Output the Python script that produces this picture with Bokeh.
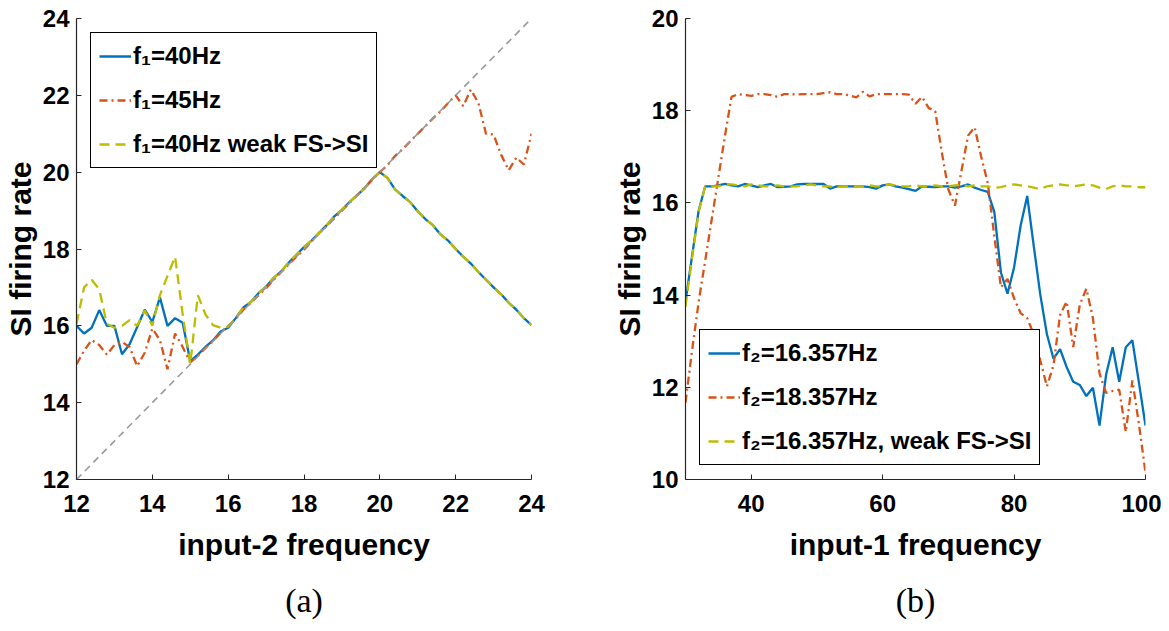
from bokeh.plotting import figure
from bokeh.layouts import row
from bokeh.models import Range1d, Legend, LegendItem, Title, FixedTicker
from bokeh.embed import file_html
from bokeh.resources import INLINE

# ---------------- panel (a) data ----------------
a_x = [12.0, 12.2, 12.4, 12.6, 12.8, 13.0, 13.2, 13.4, 13.6, 13.8,
       14.0, 14.2, 14.4, 14.6, 14.8, 15.0, 15.2, 15.4, 15.6, 15.8,
       16.0, 16.2, 16.4, 16.6, 16.8, 17.0, 17.2, 17.4, 17.6, 17.8,
       18.0, 18.2, 18.4, 18.6, 18.8, 19.0, 19.2, 19.4, 19.6, 19.8,
       20.0, 20.2, 20.4, 20.6, 20.8, 21.0, 21.2, 21.4, 21.6, 21.8,
       22.0, 22.2, 22.4, 22.6, 22.8, 23.0, 23.2, 23.4, 23.6, 23.8, 24.0]
a_f40 = [16.00, 15.80, 15.95, 16.41, 16.00, 16.00, 15.26, 15.52, 15.97, 16.42,
         16.10, 16.74, 16.00, 16.20, 16.08, 15.08, 15.25, 15.45, 15.62, 15.85,
         15.95, 16.20, 16.48, 16.62, 16.85, 17.02, 17.25, 17.42, 17.65, 17.85,
         18.05, 18.22, 18.42, 18.62, 18.85, 19.02, 19.22, 19.40, 19.58, 19.82,
         20.00, 19.85, 19.55, 19.38, 19.22, 18.98, 18.78, 18.62, 18.38, 18.22,
         18.00, 17.80, 17.62, 17.40, 17.20, 17.00, 16.82, 16.60, 16.42, 16.20, 16.02]
a_f45 = [15.00, 15.35, 15.63, 15.50, 15.25, 15.50, 15.58, 15.45, 14.95, 15.30,
         15.93, 15.63, 14.87, 15.80, 15.45, 15.05, 15.22, 15.42, 15.60, 15.82,
         16.00, 16.18, 16.42, 16.60, 16.80, 16.98, 17.20, 17.40, 17.60, 17.80,
         17.98, 18.20, 18.42, 18.60, 18.80, 19.00, 19.20, 19.40, 19.60, 19.80,
         20.00, 20.18, 20.42, 20.60, 20.80, 21.00, 21.20, 21.40, 21.58, 21.80,
         22.00, 21.72, 22.15, 21.80, 21.00, 20.98, 20.45, 20.05, 20.38, 20.20, 21.00]
a_f40_weak = [16.05, 17.00, 17.20, 16.95, 16.05, 15.95, 16.00, 16.15, 16.00, 16.40,
              16.00, 16.80, 17.30, 17.80, 16.30, 15.00, 16.80, 16.30, 16.02, 15.95,
              15.98, 16.20, 16.48, 16.62, 16.85, 17.02, 17.25, 17.42, 17.65, 17.85,
              18.05, 18.22, 18.42, 18.62, 18.85, 19.02, 19.22, 19.40, 19.58, 19.82,
              20.00, 19.85, 19.55, 19.38, 19.22, 18.98, 18.78, 18.62, 18.38, 18.22,
              18.00, 17.80, 17.62, 17.40, 17.20, 17.00, 16.82, 16.60, 16.42, 16.20, 16.02]
a_diag_x = [12, 24]
a_diag_y = [12, 24]
a_xticks = [12, 14, 16, 18, 20, 22, 24]
a_yticks = [12, 14, 16, 18, 20, 22, 24]
a_labels = ["f\u2081=40Hz", "f\u2081=45Hz", "f\u2081=40Hz weak FS->SI"]

# ---------------- panel (b) data ----------------
b_x = [30, 31, 32, 33, 34, 35, 36, 37, 38, 39, 40, 41, 42, 43, 44, 45, 46, 47, 48, 49,
       50, 51, 52, 53, 54, 55, 56, 57, 58, 59, 60, 61, 62, 63, 64, 65, 66, 67, 68, 69,
       70, 71, 72, 73, 74, 75, 76, 77, 78, 79, 80, 81, 82, 83, 84, 85, 86, 87, 88, 89,
       90, 91, 92, 93, 94, 95, 96, 97, 98, 99, 100]
b_f16 = [13.86, 14.85, 15.83, 16.36, 16.36, 16.38, 16.41, 16.38, 16.36, 16.41,
         16.38, 16.34, 16.38, 16.41, 16.34, 16.35, 16.36, 16.40, 16.41, 16.41,
         16.41, 16.41, 16.31, 16.36, 16.36, 16.36, 16.36, 16.36, 16.34, 16.31,
         16.38, 16.40, 16.36, 16.33, 16.30, 16.26, 16.36, 16.35, 16.34, 16.36,
         16.36, 16.33, 16.36, 16.40, 16.33, 16.28, 16.24, 15.80, 14.49, 14.03,
         14.60, 15.51, 16.15, 15.06, 14.00, 13.15, 12.62, 12.83, 12.44, 12.12,
         12.05, 11.81, 11.99, 11.17, 12.27, 12.87, 12.12, 12.87, 13.02, 12.10, 11.17]
b_f18 = [11.67, 12.80, 13.85, 14.75, 15.65, 16.55, 17.45, 18.30, 18.36, 18.34,
         18.32, 18.36, 18.36, 18.34, 18.30, 18.36, 18.36, 18.35, 18.36, 18.36,
         18.36, 18.38, 18.40, 18.36, 18.36, 18.33, 18.29, 18.41, 18.31, 18.36,
         18.36, 18.36, 18.36, 18.36, 18.35, 18.15, 18.30, 18.06, 17.99, 17.10,
         16.29, 15.94, 16.70, 17.46, 17.64, 17.00, 16.43, 15.27, 14.17, 14.35,
         13.93, 13.61, 13.50, 13.15, 12.58, 12.02, 12.48, 13.57, 13.86, 12.87,
         13.79, 14.14, 13.50, 12.30, 11.88, 11.92, 11.95, 11.03, 12.15, 11.20, 10.15]
b_f16_weak = [13.75, 14.80, 15.80, 16.36, 16.36, 16.36, 16.40, 16.40, 16.38, 16.36,
              16.40, 16.38, 16.36, 16.36, 16.38, 16.36, 16.36, 16.36, 16.38, 16.40,
              16.38, 16.36, 16.36, 16.34, 16.36, 16.36, 16.36, 16.36, 16.38, 16.36,
              16.36, 16.40, 16.38, 16.36, 16.36, 16.38, 16.36, 16.36, 16.38, 16.36,
              16.36, 16.38, 16.40, 16.36, 16.38, 16.36, 16.36, 16.33, 16.34, 16.38,
              16.40, 16.38, 16.36, 16.33, 16.30, 16.36, 16.38, 16.40, 16.38, 16.36,
              16.38, 16.40, 16.38, 16.33, 16.30, 16.36, 16.38, 16.36, 16.36, 16.34, 16.34]
b_xticks = [40, 60, 80, 100]
b_yticks = [10, 12, 14, 16, 18, 20]
b_labels = ["f\u2082=16.357Hz", "f\u2082=18.357Hz", "f\u2082=16.357Hz, weak FS->SI"]

BLUE = "#0072BD"
ORANGE = "#D95319"
YELLOW = "#BDBD00"
GRAY = "#9A9A9A"
AXC = "#262626"
FONT = "Liberation Sans"


def make_fig(xr, yr, xticks, yticks, xlabel, ylabel, fw, bl, br):
    p = figure(title=None, frame_width=fw, frame_height=461,
               x_range=Range1d(*xr), y_range=Range1d(*yr),
               output_backend="svg", toolbar_location=None,
               min_border_left=bl, min_border_right=br,
               min_border_top=18, min_border_bottom=132,
               background_fill_color="white", border_fill_color="white")
    p.grid.visible = False
    p.outline_line_color = None
    p.xaxis.ticker = FixedTicker(ticks=xticks)
    p.yaxis.ticker = FixedTicker(ticks=yticks)
    p.xaxis.axis_label = xlabel
    p.yaxis.axis_label = ylabel
    for ax in (p.xaxis[0], p.yaxis[0]):
        ax.axis_line_color = AXC
        ax.axis_line_width = 1.2
        ax.major_tick_line_color = AXC
        ax.major_tick_in = 5
        ax.major_tick_out = 0
        ax.minor_tick_line_color = None
        ax.major_label_text_font = FONT
        ax.major_label_text_font_style = "bold"
        ax.major_label_text_font_size = "24px"
        ax.major_label_text_color = "#000000"
        ax.axis_label_text_font = FONT
        ax.axis_label_text_font_style = "bold"
        ax.axis_label_text_font_size = "30px"
        ax.axis_label_text_color = "#000000"
    p.xaxis.major_label_standoff = 15
    p.yaxis.major_label_standoff = 7
    p.xaxis.axis_label_standoff = 13
    p.yaxis.axis_label_standoff = 3
    return p


def add_legend(p, items, loc):
    lg = Legend(items=items, location=loc, margin=14,
                border_line_color="#000000", border_line_width=1.2,
                border_line_alpha=1.0,
                background_fill_color="white", background_fill_alpha=1.0,
                label_text_font=FONT, label_text_font_style="bold",
                label_text_font_size="24px", label_text_color="#000000",
                glyph_width=32, glyph_height=30, label_height=30,
                spacing=14, padding=8, label_standoff=2)
    p.add_layout(lg)


def add_caption(p, text):
    p.add_layout(Title(text=text, align="center", offset=-14,
                       text_font="Liberation Serif", text_font_style="normal",
                       text_font_size="34px", text_color="#000000",
                       standoff=32), "below")


# ---------------- panel (a) ----------------
pa = make_fig((12, 24), (12, 24), a_xticks, a_yticks,
              "input-2 frequency", "SI firing rate", 455, 73, 62)
ra1 = pa.line(a_x, a_f40, line_color=BLUE, line_width=2.3)
ra2 = pa.line(a_x, a_f45, line_color=ORANGE, line_width=2.3, line_dash="8 4 2 4")
ra3 = pa.line(a_x, a_f40_weak, line_color=YELLOW, line_width=2.3, line_dash="10 6")
pa.line(a_diag_x, a_diag_y, line_color=GRAY, line_width=1.6, line_dash="7 5")
add_legend(pa, [LegendItem(label=a_labels[0], renderers=[ra1]),
                LegendItem(label=a_labels[1], renderers=[ra2]),
                LegendItem(label=a_labels[2], renderers=[ra3])], "top_left")
add_caption(pa, "(a)")

# ---------------- panel (b) ----------------
pb = make_fig((30, 100), (10, 20), b_xticks, b_yticks,
              "input-1 frequency", "SI firing rate", 460, 92, 16)
rb1 = pb.line(b_x, b_f16, line_color=BLUE, line_width=2.3)
rb2 = pb.line(b_x, b_f18, line_color=ORANGE, line_width=2.3, line_dash="8 4 2 4")
rb3 = pb.line(b_x, b_f16_weak, line_color=YELLOW, line_width=2.3, line_dash="10 6")
add_legend(pb, [LegendItem(label=b_labels[0], renderers=[rb1]),
                LegendItem(label=b_labels[1], renderers=[rb2]),
                LegendItem(label=b_labels[2], renderers=[rb3])], "bottom_left")
add_caption(pb, "(b)")

layout = row(pa, pb)
open("out.html", "w").write(file_html(layout, INLINE))
